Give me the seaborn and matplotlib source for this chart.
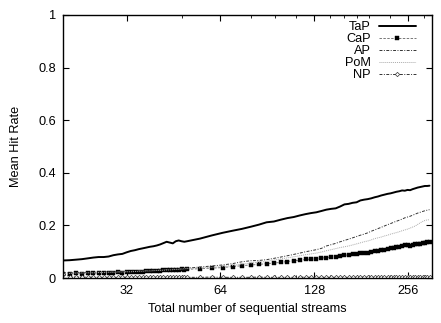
import numpy as np
import pandas as pd
import matplotlib
matplotlib.use("Agg")
import matplotlib.pyplot as plt
from matplotlib.ticker import FixedLocator, NullFormatter
import seaborn as sns

streams = list(range(20, 50)) + list(range(50, 301, 5))

tap = [0.067, 0.068, 0.070, 0.072, 0.075, 0.078, 0.080, 0.080, 0.082, 0.087,
       0.090, 0.092, 0.098, 0.103, 0.106, 0.110, 0.113, 0.116, 0.119, 0.121,
       0.124, 0.128, 0.133, 0.138, 0.135, 0.132, 0.140, 0.143, 0.140, 0.138,
       0.140, 0.150, 0.162, 0.172, 0.180, 0.187, 0.195, 0.203, 0.212, 0.215,
       0.222, 0.228, 0.232, 0.238, 0.243, 0.247, 0.250, 0.255, 0.260, 0.263,
       0.265, 0.272, 0.280, 0.282, 0.286, 0.288, 0.295, 0.298, 0.300, 0.303,
       0.307, 0.310, 0.314, 0.317, 0.320, 0.322, 0.325, 0.328, 0.330, 0.333,
       0.332, 0.335, 0.334, 0.338, 0.341, 0.344, 0.346, 0.348, 0.350, 0.350,
       0.351]

cap = [0.017, 0.016, 0.018, 0.017, 0.019, 0.018, 0.020, 0.019, 0.021, 0.020,
       0.022, 0.021, 0.023, 0.022, 0.024, 0.024, 0.025, 0.026, 0.026, 0.027,
       0.028, 0.027, 0.029, 0.030, 0.029, 0.031, 0.032, 0.031, 0.033, 0.032,
       0.033, 0.036, 0.038, 0.040, 0.044, 0.047, 0.050, 0.052, 0.055, 0.057,
       0.060, 0.063, 0.066, 0.068, 0.071, 0.072, 0.074, 0.076, 0.078, 0.080,
       0.082, 0.084, 0.087, 0.088, 0.091, 0.092, 0.095, 0.097, 0.096, 0.100,
       0.102, 0.104, 0.106, 0.108, 0.110, 0.113, 0.115, 0.117, 0.118, 0.121,
       0.124, 0.125, 0.123, 0.127, 0.129, 0.128, 0.131, 0.133, 0.134, 0.136,
       0.137]

ap = [0.020, 0.020, 0.021, 0.021, 0.022, 0.022, 0.023, 0.023, 0.024, 0.024,
      0.025, 0.025, 0.026, 0.026, 0.027, 0.028, 0.028, 0.029, 0.030, 0.030,
      0.031, 0.032, 0.032, 0.033, 0.034, 0.034, 0.035, 0.036, 0.036, 0.037,
      0.038, 0.042, 0.046, 0.050, 0.055, 0.062, 0.066, 0.067, 0.070, 0.075,
      0.080, 0.085, 0.090, 0.095, 0.100, 0.104, 0.108, 0.113, 0.122, 0.127,
      0.132, 0.138, 0.143, 0.148, 0.153, 0.158, 0.163, 0.167, 0.172, 0.178,
      0.183, 0.188, 0.193, 0.198, 0.203, 0.207, 0.212, 0.216, 0.220, 0.224,
      0.229, 0.232, 0.235, 0.239, 0.243, 0.247, 0.250, 0.253, 0.256, 0.258,
      0.260]

pom = [0.018, 0.018, 0.019, 0.019, 0.020, 0.020, 0.021, 0.021, 0.022, 0.022,
       0.023, 0.023, 0.024, 0.024, 0.025, 0.026, 0.026, 0.027, 0.027, 0.028,
       0.029, 0.029, 0.030, 0.031, 0.031, 0.032, 0.033, 0.033, 0.034, 0.035,
       0.036, 0.039, 0.041, 0.044, 0.048, 0.053, 0.057, 0.060, 0.064, 0.069,
       0.073, 0.077, 0.081, 0.085, 0.089, 0.092, 0.095, 0.099, 0.104, 0.108,
       0.112, 0.116, 0.119, 0.122, 0.126, 0.130, 0.134, 0.138, 0.141, 0.145,
       0.150, 0.153, 0.156, 0.160, 0.163, 0.167, 0.170, 0.173, 0.176, 0.180,
       0.183, 0.186, 0.190, 0.194, 0.198, 0.204, 0.210, 0.215, 0.219, 0.221,
       0.222]

np_vals = [0.015, 0.006, 0.004, 0.004, 0.003, 0.004, 0.003, 0.003, 0.004, 0.003,
           0.003, 0.004, 0.003, 0.003, 0.003, 0.004, 0.003, 0.003, 0.003, 0.004,
           0.003, 0.003, 0.003, 0.003, 0.004, 0.003, 0.003, 0.003, 0.003, 0.003,
           0.003, 0.003, 0.004, 0.003, 0.003, 0.003, 0.003, 0.004, 0.003, 0.003,
           0.003, 0.003, 0.003, 0.004, 0.003, 0.003, 0.003, 0.003, 0.003, 0.003,
           0.004, 0.003, 0.003, 0.003, 0.003, 0.003, 0.003, 0.004, 0.003, 0.003,
           0.003, 0.003, 0.003, 0.003, 0.004, 0.003, 0.003, 0.003, 0.003, 0.003,
           0.003, 0.003, 0.004, 0.003, 0.003, 0.003, 0.003, 0.003, 0.003, 0.003,
           0.003]

series_names = ["TaP", "CaP", "AP", "PoM", "NP"]
x_ticks = [32, 64, 128, 256]
x_minor = [48, 80, 96, 112, 144, 160, 176, 192, 224, 288]
y_ticks = [0, 0.2, 0.4, 0.6, 0.8, 1.0]
y_labels = ["0", "0.2", "0.4", "0.6", "0.8", "1"]

sns.set_style("ticks")
plt.rcParams['font.family'] = ['Liberation Sans', 'DejaVu Sans']
FS = 9.2
plt.rcParams.update({
    'font.size': FS,
    'text.color': 'black',
    'axes.labelcolor': 'black',
    'xtick.color': 'black',
    'ytick.color': 'black',
})

fig, ax = plt.subplots(figsize=(4.41, 3.23), dpi=100)
fig.subplots_adjust(left=0.143, right=0.98, top=0.954, bottom=0.139)

styles = {
    "TaP": dict(color="black", linewidth=1.4, linestyle="-"),
    "CaP": dict(color="#777777", linewidth=0.7, linestyle=(0, (2.5, 1.5)),
                marker="s", markersize=2.6, markerfacecolor="black",
                markeredgecolor="black", markeredgewidth=0.3),
    "AP": dict(color="#333333", linewidth=0.7, linestyle=(0, (3, 1.5, 1, 1.5))),
    "PoM": dict(color="#aaaaaa", linewidth=0.7, linestyle=(0, (1, 1))),
    "NP": dict(color="#333333", linewidth=0.7, linestyle=(0, (3, 1.5, 1, 1.5)),
               marker="D", markersize=2.2, markerfacecolor="white",
               markeredgecolor="#333333", markeredgewidth=0.5),
}
data = dict(zip(series_names, [tap, cap, ap, pom, np_vals]))

for name in series_names:
    df = pd.DataFrame({"streams": streams, "rate": data[name]})
    sns.lineplot(data=df, x="streams", y="rate", ax=ax, label=name,
                 **styles[name])

ax.set_xscale("log", base=2)
ax.set_xlim(20, 306)
ax.set_ylim(0, 1)
ax.xaxis.set_major_locator(FixedLocator(x_ticks))
ax.set_xticklabels([str(t) for t in x_ticks])
ax.xaxis.set_minor_locator(FixedLocator(x_minor))
ax.xaxis.set_minor_formatter(NullFormatter())
ax.set_yticks(y_ticks)
ax.set_yticklabels(y_labels)

ax.tick_params(which="major", direction="in", length=4, width=0.8,
               top=True, right=True, pad=5, labelsize=FS, colors="black")
ax.tick_params(which="minor", direction="in", length=2, width=0.6,
               top=True, bottom=True, colors="black")
ax.tick_params(axis="y", which="minor", left=False, right=False)
for sp in ax.spines.values():
    sp.set_linewidth(1.0)
    sp.set_color("black")

ax.set_xlabel("Total number of sequential streams", fontsize=FS, labelpad=4,
              color="black")
ax.set_ylabel("Mean Hit Rate", fontsize=FS, labelpad=12, color="black")

leg = ax.legend(loc="upper right", bbox_to_anchor=(0.955, 0.975),
                frameon=False, markerfirst=False, numpoints=1,
                handlelength=2.9, handletextpad=0.6, labelspacing=0.0,
                borderpad=0, borderaxespad=0, fontsize=FS)
for t in leg.get_texts():
    t.set_color("black")

fig.savefig("out.png", dpi=100)
